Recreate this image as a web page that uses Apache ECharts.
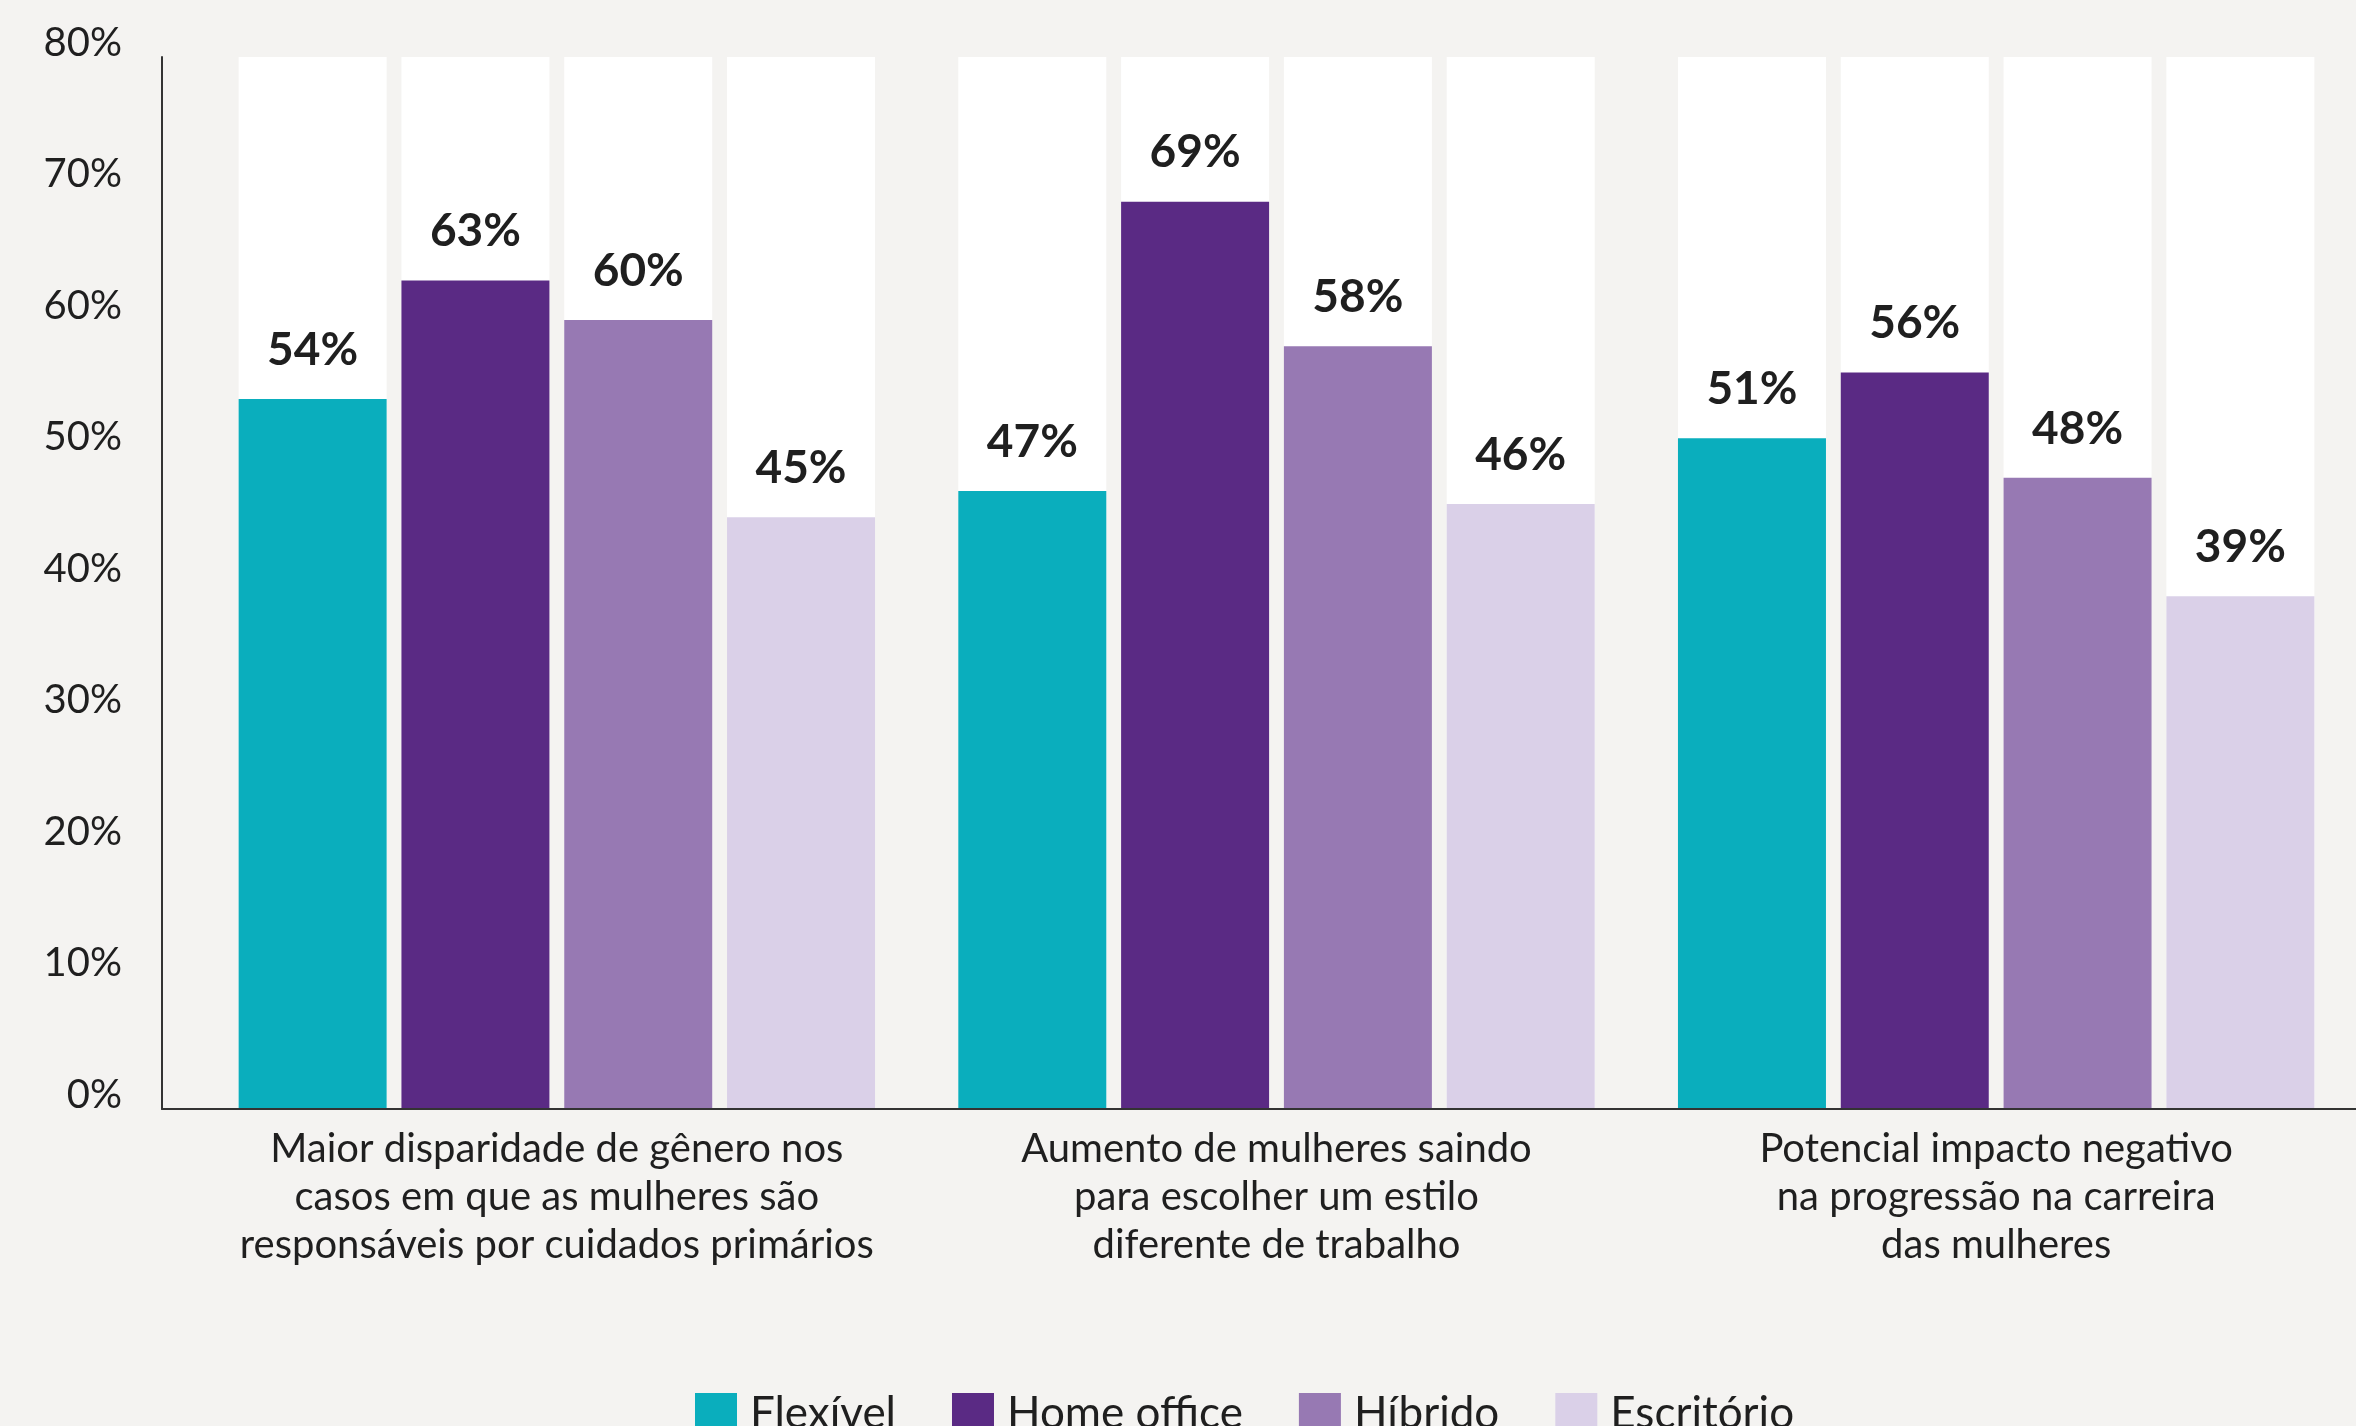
<!DOCTYPE html>
<html>
<head>
<meta charset="utf-8">
<script src="https://cdn.jsdelivr.net/npm/echarts@6/dist/echarts.min.js"></script>
<style>
  html, body { margin: 0; padding: 0; background: #f4f3f1; }
  #chart { width: 2356px; height: 1426px; }
</style>
</head>
<body>
<div id="chart"></div>
<script>
// Categories (x axis) and one value array per work model
const categories = [
  'Maior disparidade de gênero nos\ncasos em que as mulheres são\nresponsáveis por cuidados primários',
  'Aumento de mulheres saindo\npara escolher um estilo\ndiferente de trabalho',
  'Potencial impacto negativo\nna progressão na carreira\ndas mulheres'
];
const seriesNames = ['Flexível', 'Home office', 'Híbrido', 'Escritório'];
const flexivel   = [54, 47, 51];
const homeOffice = [63, 69, 56];
const hibrido    = [60, 58, 48];
const escritorio = [45, 46, 39];
const yTicks = [0, 10, 20, 30, 40, 50, 60, 70, 80];

const colors = ['#0aaebd', '#5a2a84', '#9779b3', '#dad0e8'];
const values = [flexivel, homeOffice, hibrido, escritorio];
const FONT = 'Lato, "Noto Sans", sans-serif';

const chart = echarts.init(document.getElementById('chart'));

chart.setOption({
  backgroundColor: '#f4f3f1',
  animation: false,
  textStyle: { fontFamily: FONT, color: '#1f1f1f' },
  legend: {
    data: seriesNames,
    left: 690,
    top: 1387,
    itemWidth: 42,
    itemHeight: 42,
    itemGap: 56,
    icon: 'rect',
    textStyle: { fontSize: 44, color: '#1f1f1f', fontFamily: FONT, padding: [0, 0, 0, 8] }
  },
  grid: [
    // bars
    { left: 197, width: 2161, top: 57, bottom: 317 },
    // frame: y axis and full-width baseline
    { left: 162, right: 0, top: 57, bottom: 317 }
  ],
  xAxis: [
    {
      type: 'category', gridIndex: 0, data: categories,
      axisLine: { show: false }, axisTick: { show: false },
      axisLabel: { interval: 0, fontSize: 40, lineHeight: 48, margin: 16, color: '#1f1f1f', fontFamily: FONT }
    },
    {
      type: 'category', gridIndex: 1, data: [''], z: 10,
      axisLine: { show: true, lineStyle: { color: '#333', width: 2 } },
      axisTick: { show: false }, axisLabel: { show: false }
    }
  ],
  yAxis: [
    {
      type: 'value', gridIndex: 0, min: 0, max: 80, interval: 10,
      axisLine: { show: false }, axisTick: { show: false },
      axisLabel: { show: false }, splitLine: { show: false }
    },
    {
      type: 'value', gridIndex: 1, min: 0, max: 80, interval: 10, z: 10,
      axisLine: { show: true, lineStyle: { color: '#333', width: 2 } },
      axisTick: { show: false }, splitLine: { show: false },
      axisLabel: {
        fontSize: 40, margin: 40, color: '#1f1f1f', fontFamily: FONT,
        verticalAlign: 'bottom', lineHeight: 28,
        formatter: v => (yTicks.includes(v) ? v + '%' : '')
      }
    }
  ],
  series: values.map((vals, i) => ({
    name: seriesNames[i],
    type: 'bar',
    xAxisIndex: 0, yAxisIndex: 0,
    data: vals,
    barWidth: 148,
    barGap: '10%',
    itemStyle: { color: colors[i] },
    showBackground: true,
    backgroundStyle: { color: '#ffffff', opacity: 1 },
    label: {
      show: true, position: 'top', distance: 26,
      formatter: '{c}%',
      fontSize: 46, fontWeight: 'bold', color: '#1f1f1f', fontFamily: FONT
    }
  }))
});
</script>
</body>
</html>
